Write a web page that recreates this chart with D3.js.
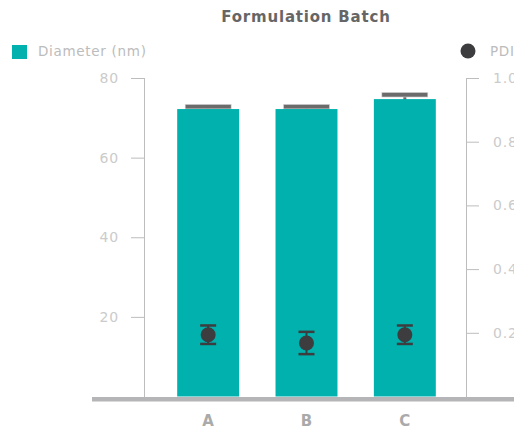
<!DOCTYPE html>
<html>
<head>
<meta charset="utf-8">
<script src="https://cdn.jsdelivr.net/npm/d3@7"></script>
<style>
  html, body { margin: 0; padding: 0; background: #fff; }
  svg { display: block; font-family: "DejaVu Sans", sans-serif; }
</style>
</head>
<body>
<svg id="chart" width="514" height="432"></svg>
<script>
// Formulation batches
const batches = ["A", "B", "C"];
// Mean particle diameter (nm) and its error
const diameter = [72.2, 72.2, 74.7];
const diameterErr = [0.6, 0.6, 1.1];
// Polydispersity index and its error
const pdi = [0.194, 0.168, 0.194];
const pdiErr = [0.029, 0.035, 0.029];
// Axis ticks
const diameterTicks = [20, 40, 60, 80];
const pdiTicks = [0.2, 0.4, 0.6, 0.8, 1.0];

const svg = d3.select("#chart");
const plotTop = 78, plotBottom = 396.5;
const leftX = 144, rightX = 466;

const x = d3.scaleBand().domain(batches).range([159, 454]).paddingInner(0.37).paddingOuter(0.185);
const yL = d3.scaleLinear().domain([0, 80]).range([plotBottom, plotTop]);
const yR = d3.scaleLinear().domain([0, 1]).range([plotBottom, plotTop]);

const teal = "#00b1ad";
const dark = "#3d3d40";
const axisGrey = "#bdbdbd";
const labelGrey = "#cbcbcb";

// Title
svg.append("text").attr("x", 306).attr("y", 22).attr("text-anchor", "middle")
  .attr("font-size", 15).attr("font-weight", 700).attr("letter-spacing", 0.8).attr("fill", "#666")
  .text("Formulation Batch");

// Legend
svg.append("rect").attr("x", 12).attr("y", 45).attr("width", 15).attr("height", 14).attr("fill", teal);
svg.append("text").attr("x", 38).attr("y", 56).attr("font-size", 13.5).attr("letter-spacing", 0.7)
  .attr("fill", "#bcbcbc").text("Diameter (nm)");
svg.append("circle").attr("cx", 468).attr("cy", 51).attr("r", 7.5).attr("fill", dark);
svg.append("text").attr("x", 490).attr("y", 56).attr("font-size", 13.5).attr("letter-spacing", 0.7)
  .attr("fill", "#bcbcbc").text("PDI");

// Left axis
const axL = svg.append("g").attr("transform", `translate(${leftX},0)`)
  .call(d3.axisLeft(yL).tickValues(diameterTicks).tickSize(13).tickPadding(12).tickFormat(d3.format("d")));
// Right axis
const axR = svg.append("g").attr("transform", `translate(${rightX},0)`)
  .call(d3.axisRight(yR).tickValues(pdiTicks).tickSize(13).tickPadding(14).tickFormat(d3.format(".1f")));
[axL, axR].forEach(g => {
  g.select(".domain").remove();
  g.selectAll(".tick line").attr("stroke", axisGrey);
  g.selectAll(".tick text").attr("fill", labelGrey).attr("font-size", 14).attr("letter-spacing", 0.8)
    .attr("font-family", "'DejaVu Sans', sans-serif");
});
svg.append("line").attr("x1", leftX + 0.5).attr("x2", leftX + 0.5).attr("y1", plotTop).attr("y2", plotBottom + 1).attr("stroke", axisGrey);
svg.append("line").attr("x1", rightX + 0.5).attr("x2", rightX + 0.5).attr("y1", plotTop).attr("y2", plotBottom + 1).attr("stroke", axisGrey);

// Diameter error bars (sit behind the bars)
const capW = 46;
const eb = svg.append("g");
batches.forEach((b, i) => {
  const cx = x(b) + x.bandwidth() / 2;
  const yHi = yL(diameter[i] + diameterErr[i]);
  const yLo = yL(diameter[i] - diameterErr[i]);
  eb.append("line").attr("x1", cx).attr("x2", cx).attr("y1", yHi).attr("y2", yLo)
    .attr("stroke", "#6b6b6b").attr("stroke-width", 3);
  [yHi, yLo].forEach(yy => eb.append("rect").attr("x", cx - capW / 2).attr("y", yy - 2.3)
    .attr("width", capW).attr("height", 4.6).attr("fill", "#6b6b6b")
    .attr("stroke", "#d9d9d9").attr("stroke-width", 0.6));
});

// Diameter bars
svg.append("g").selectAll("rect").data(batches).join("rect")
  .attr("x", d => x(d)).attr("width", x.bandwidth())
  .attr("y", (d, i) => yL(diameter[i])).attr("height", (d, i) => plotBottom - yL(diameter[i]))
  .attr("fill", teal);

// PDI points with error bars
const pg = svg.append("g");
batches.forEach((b, i) => {
  const cx = x(b) + x.bandwidth() / 2;
  const yHi = yR(pdi[i] + pdiErr[i]);
  const yLo = yR(pdi[i] - pdiErr[i]);
  pg.append("line").attr("x1", cx).attr("x2", cx).attr("y1", yHi).attr("y2", yLo)
    .attr("stroke", dark).attr("stroke-width", 2);
  [yHi, yLo].forEach(yy => pg.append("line").attr("x1", cx - 8).attr("x2", cx + 8)
    .attr("y1", yy).attr("y2", yy).attr("stroke", dark).attr("stroke-width", 2.5));
  pg.append("circle").attr("cx", cx).attr("cy", yR(pdi[i])).attr("r", 7.5).attr("fill", dark);
});

// Baseline
svg.append("rect").attr("x", 92).attr("y", 397).attr("width", 422).attr("height", 4.5).attr("fill", "#b5b5b7");

// Category labels
svg.append("g").selectAll("text").data(batches).join("text")
  .attr("x", d => x(d) + x.bandwidth() / 2).attr("y", 426).attr("text-anchor", "middle")
  .attr("font-size", 15).attr("font-weight", 700).attr("fill", "#aaaaaa").text(d => d);
</script>
</body>
</html>
